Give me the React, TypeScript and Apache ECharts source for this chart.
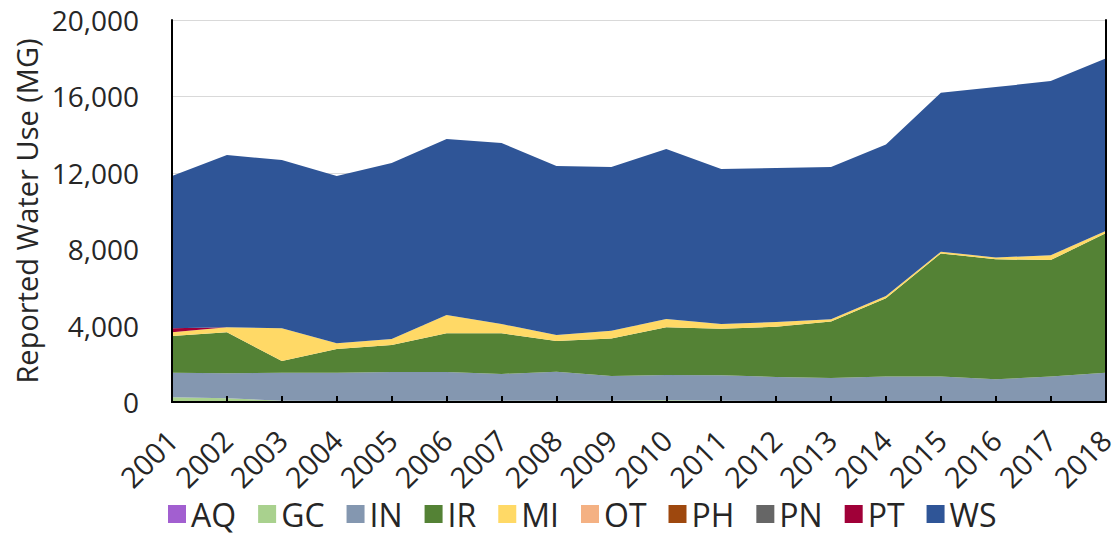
import React, { useEffect, useRef } from "react";
import * as echarts from "echarts";

const years = ["2001","2002","2003","2004","2005","2006","2007","2008","2009","2010","2011","2012","2013","2014","2015","2016","2017","2018"];
const seriesNames = ["AQ","GC","IN","IR","MI","OT","PH","PN","PT","WS"];
const seriesColors = ["#a25fd0","#a9d18e","#8497b0","#548235","#ffd966","#f4b183","#9e480e","#666666","#a00038","#2f5597"];

const AQ = [0,0,0,0,0,0,0,0,0,0,0,0,0,0,0,0,0,0];
const GC = [250,200,60,50,50,60,60,60,60,90,70,50,50,50,50,50,50,50];
const IN = [1280,1300,1470,1480,1520,1510,1410,1530,1300,1320,1330,1260,1210,1280,1280,1140,1280,1480];
const IR = [1930,2150,620,1240,1410,2030,2130,1600,1970,2500,2440,2630,2950,4100,6450,6280,6100,7300];
const MI = [190,260,1710,300,320,950,480,320,400,440,240,250,120,120,90,100,250,120];
const OT = [0,0,0,0,0,0,0,0,0,0,0,0,0,0,0,0,0,0];
const PH = [0,0,0,0,0,0,0,0,0,0,0,0,0,0,0,0,0,0];
const PN = [0,0,0,0,0,0,0,0,0,0,0,0,0,0,0,0,0,0];
const PT = [210,10,0,0,0,0,0,0,0,0,0,0,0,0,0,0,0,0];
const WS = [7970,9010,8810,8760,9210,9220,9480,8850,8570,8900,8120,8060,7970,7930,8320,8920,9120,9040];

const seriesData = [AQ, GC, IN, IR, MI, OT, PH, PN, PT, WS];

const FONT = "'Open Sans', 'Noto Sans', sans-serif";
const TXT = "#262626";

export default function App() {
  const ref = useRef<HTMLDivElement>(null);
  useEffect(() => {
    if (!ref.current) return;
    const chart = echarts.init(ref.current, null, { renderer: "svg" });
    const borderAxis = {
      type: "value",
      min: 0,
      max: 20000,
      interval: 4000,
      axisLine: { show: true, lineStyle: { color: "#000", width: 2 } },
      axisTick: { show: false },
      axisLabel: { show: false },
      splitLine: { show: false },
      z: 10,
    };
    chart.setOption({
      animation: false,
      backgroundColor: "#ffffff",
      textStyle: { fontFamily: FONT },
      grid: { left: 172, right: 9, top: 20, bottom: 133, containLabel: false },
      legend: {
        bottom: 0,
        left: 163,
        itemWidth: 18,
        itemHeight: 18,
        itemGap: 22,
        icon: "rect",
        textStyle: { fontSize: 32, color: TXT, fontFamily: FONT },
        data: seriesNames,
      },
      xAxis: [
        {
          type: "category",
          data: years,
          boundaryGap: false,
          axisLine: { lineStyle: { color: "#000", width: 2 } },
          axisTick: { inside: true, length: 6, lineStyle: { color: "#000", width: 2 } },
          axisLabel: { rotate: 45, interval: 0, fontSize: 29, color: TXT, margin: 33, fontFamily: FONT },
          splitLine: { show: false },
          z: 10,
        },
        {
          type: "category",
          data: years,
          position: "top",
          boundaryGap: false,
          axisLine: { lineStyle: { color: "#000", width: 2 } },
          axisTick: { show: false },
          axisLabel: { show: false },
          splitLine: { show: false },
          z: 10,
        },
      ],
      yAxis: [
        {
          type: "value",
          min: 0,
          max: 20000,
          interval: 4000,
          name: "Reported Water Use (MG)",
          nameLocation: "middle",
          nameGap: 130,
          nameTextStyle: { fontSize: 29, color: TXT, fontFamily: FONT },
          axisLine: { show: false },
          axisTick: { show: false },
          axisLabel: {
            fontSize: 28,
            color: TXT,
            margin: 33,
            fontFamily: FONT,
            formatter: (v: number) => v.toLocaleString("en-US"),
          },
          splitLine: { lineStyle: { color: "#d9d9d9", width: 1 } },
          z: 0,
        },
        { ...borderAxis, position: "right" },
        { ...borderAxis, position: "left" },
      ],
      series: seriesNames.map((name, i) => ({
        name,
        type: "line",
        stack: "total",
        data: seriesData[i],
        symbol: "none",
        lineStyle: { width: 0 },
        areaStyle: { color: seriesColors[i], opacity: 1 },
        itemStyle: { color: seriesColors[i] },
        z: 2,
      })),
    });
    return () => chart.dispose();
  }, []);
  return (
    <div
      ref={ref}
      style={{ position: "fixed", left: 0, top: 0, width: 1118, height: 535 }}
    />
  );
}
